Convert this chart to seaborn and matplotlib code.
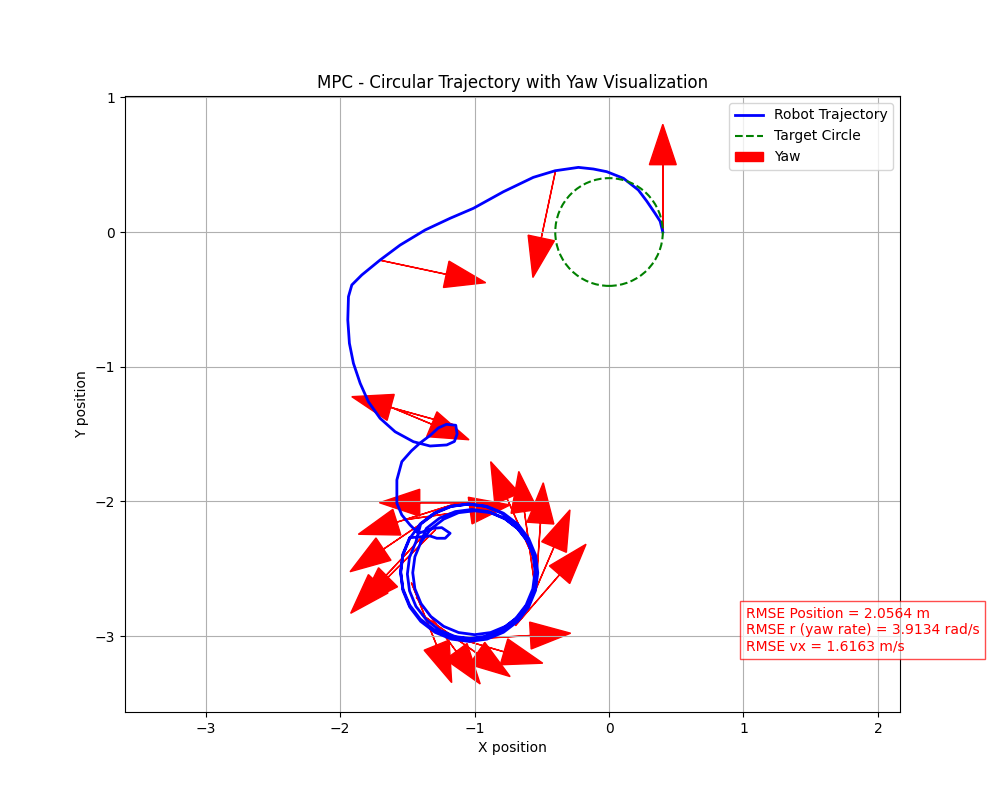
import numpy as np
import matplotlib
matplotlib.use("Agg")
import matplotlib.pyplot as plt
from matplotlib.lines import Line2D
from matplotlib.patches import Circle
import seaborn as sns


# DANE: trajektoria robota
TRAJ_X = [
    0.400, 0.380, 0.342, 0.280, 0.218, 0.107, -0.017, -0.117, -0.228, -0.401,
    -0.563, -0.680, -0.786, -1.009, -1.182, -1.368, -1.554, -1.703, -1.839, -1.913,
    -1.938, -1.943, -1.931, -1.901, -1.851, -1.790, -1.703, -1.591, -1.455, -1.331,
    -1.207, -1.150, -1.130, -1.140, -1.210, -1.270, -1.330, -1.405, -1.470, -1.541,
    -1.578, -1.578, -1.541, -1.480, -1.418,
    # mala petla przed okregiem
    -1.306, -1.244, -1.182, -1.219, -1.281, -1.331,
    # okrazenie 1
    -1.483, -1.533, -1.550, -1.533, -1.483, -1.404, -1.300, -1.180, -1.050, -0.921,
    -0.800, -0.697, -0.617, -0.567, -0.550, -0.567, -0.617, -0.697, -0.800, -0.921,
    -1.050, -1.180, -1.300, -1.404,
    # okrazenie 2
    -1.482, -1.533, -1.550, -1.533, -1.482, -1.401, -1.295, -1.172, -1.040, -0.908,
    -0.785, -0.679, -0.598, -0.547, -0.530, -0.547, -0.598, -0.679, -0.785, -0.908,
    -1.040, -1.172, -1.295, -1.401,
    # okrazenie 3
    -1.436, -1.484, -1.500, -1.484, -1.436, -1.359, -1.260, -1.144, -1.020, -0.896,
    -0.780, -0.681, -0.604, -0.556, -0.540, -0.556, -0.604, -0.681, -0.780, -0.896,
    -1.020, -1.144, -1.260, -1.359,
    # okrazenie 4
    -1.398, -1.444, -1.460, -1.444, -1.398, -1.325, -1.230, -1.119, -1.000, -0.881,
    -0.770, -0.675, -0.602, -0.556, -0.540, -0.556, -0.602, -0.675, -0.770, -0.881,
    -1.000, -1.119, -1.230, -1.325, -1.398,
]
TRAJ_Y = [
    0.000, 0.080, 0.139, 0.230, 0.312, 0.399, 0.448, 0.468, 0.480, 0.455,
    0.406, 0.350, 0.299, 0.176, 0.102, 0.015, -0.097, -0.208, -0.319, -0.393,
    -0.480, -0.653, -0.826, -0.975, -1.123, -1.260, -1.383, -1.483, -1.557, -1.589,
    -1.581, -1.555, -1.500, -1.435, -1.428, -1.455, -1.510, -1.566, -1.625, -1.705,
    -1.841, -2.014, -2.101, -2.175, -2.237,
    -2.200, -2.195, -2.237, -2.274, -2.274, -2.257,
    -2.270, -2.391, -2.520, -2.650, -2.770, -2.874, -2.953, -3.003, -3.020, -3.003,
    -2.953, -2.874, -2.770, -2.650, -2.520, -2.391, -2.270, -2.167, -2.087, -2.037,
    -2.020, -2.037, -2.087, -2.167,
    -2.275, -2.398, -2.530, -2.662, -2.785, -2.891, -2.972, -3.023, -3.040, -3.023,
    -2.972, -2.891, -2.785, -2.662, -2.530, -2.398, -2.275, -2.169, -2.088, -2.037,
    -2.020, -2.037, -2.088, -2.169,
    -2.300, -2.416, -2.540, -2.664, -2.780, -2.879, -2.956, -3.004, -3.020, -3.004,
    -2.956, -2.879, -2.780, -2.664, -2.540, -2.416, -2.300, -2.201, -2.124, -2.076,
    -2.060, -2.076, -2.124, -2.201,
    -2.300, -2.411, -2.530, -2.649, -2.760, -2.855, -2.928, -2.974, -2.990, -2.974,
    -2.928, -2.855, -2.760, -2.649, -2.530, -2.411, -2.300, -2.205, -2.132, -2.084,
    -2.070, -2.084, -2.132, -2.205, -2.300,
]

# DANE: strzalki orientacji (punkt startowy + yaw w stopniach)
ARROW_X = [0.40, -0.40, -1.70, -1.142, -1.78, -0.908, -1.101, -1.263, -1.375, -1.29,
           -0.555, -0.56, -0.545, -0.607, -0.696, -1.528, -1.084, -1.261, -1.391, -1.433, -1.47]
ARROW_Y = [0.00, 0.445, -0.21, -1.435, -1.235, -2.01, -2.005, -2.075, -2.247, -2.21,
           -2.436, -2.57, -2.66, -2.798, -2.922, -2.138, -3.025, -2.977, -2.842, -2.712, -2.604]
ARROW_YAW_DEG = [90, -102, -12, 164.6, -22.6, 180, 197.4, 214, 226.9, 225,
                 114, 98, 86, 66.7, 49, 8, 3.3, -16.3, -35, -53.6, -68]

# DANE: okrag docelowy
TARGET_CENTER = (0.0, 0.0)
TARGET_RADIUS = 0.4

RMSE_POS = 2.0564
RMSE_R = 3.9134
RMSE_VX = 1.6163


fig, ax = plt.subplots(figsize=(10, 8), dpi=100)

# Trajektoria robota
sns.lineplot(x=TRAJ_X, y=TRAJ_Y, sort=False, estimator=None, color='blue',
             linewidth=2, ax=ax, legend=False)

# Okrag docelowy
target = Circle(TARGET_CENTER, TARGET_RADIUS, fill=False, edgecolor='green',
                linestyle='--', linewidth=1.5, zorder=2)
ax.add_patch(target)

# Strzalki yaw
arrow_len = 0.5
yaw_handle = None
for x, y, yaw in zip(ARROW_X, ARROW_Y, ARROW_YAW_DEG):
    th = np.deg2rad(yaw)
    arr = ax.arrow(x, y, arrow_len * np.cos(th), arrow_len * np.sin(th),
                   head_width=0.2, head_length=0.3, fc='red', ec='red')
    if yaw_handle is None:
        yaw_handle = arr

ax.set_xlim(-3.60, 2.164)
ax.set_ylim(-3.564, 1.010)

ax.set_title('MPC - Circular Trajectory with Yaw Visualization')
ax.set_xlabel('X position')
ax.set_ylabel('Y position')
ax.grid(True)

handles = [
    Line2D([], [], color='blue', linewidth=2),
    Line2D([], [], color='green', linestyle='--', linewidth=1.5),
    yaw_handle,
]
ax.legend(handles, ['Robot Trajectory', 'Target Circle', 'Yaw'], loc='upper right')

txt = (f'RMSE Position = {RMSE_POS:.4f} m\n'
       f'RMSE r (yaw rate) = {RMSE_R:.4f} rad/s\n'
       f'RMSE vx = {RMSE_VX:.4f} m/s')
ax.text(1.015, -2.955, txt, color='red', va='center',
        bbox=dict(facecolor='white', alpha=0.7, edgecolor='red'))

fig.savefig('out.png')
plt.close(fig)
